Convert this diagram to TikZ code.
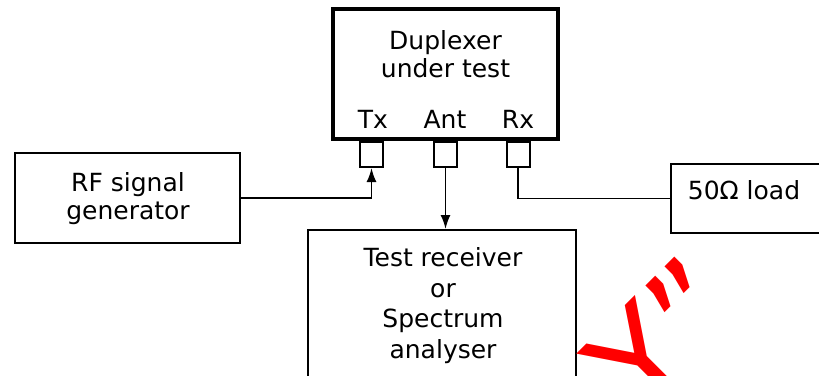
\documentclass[tikz,border=0pt]{standalone}
\usepackage{fontspec}
\setmainfont{DejaVu Sans}
\usetikzlibrary{arrows.meta}
\tikzset{
  box/.style={draw, line width=2pt, rectangle, inner sep=0pt, align=center},
  port/.style={draw, line width=2pt, rectangle, inner sep=0pt, minimum width=23pt, minimum height=25pt},
  lbl/.style={font=\fontsize{25}{28}\selectfont, inner sep=0pt, align=center},
  wire/.style={line width=1.8pt},
  arr/.style={wire, -{Latex[length=14pt,width=10pt]}},
}
\begin{document}
\begin{tikzpicture}[x=1pt,y=-1pt]
\useasboundingbox (0,0) rectangle (819,375);
\clip (0,0) rectangle (819,375);
% duplexer
\node[box, line width=4pt, minimum width=225pt, minimum height=130pt] (dup) at (445.5,74) {};
\node[lbl, anchor=base] (dupt) at (445.5,77) {Duplexer\\under test};
\node[lbl, anchor=base] (txl) at (373,128) {Tx};
\node[lbl, anchor=base] (antl) at (445,128) {Ant};
\node[lbl, anchor=base] (rxl) at (518,128) {Rx};
\node[port, anchor=north] (tx) at (371.5,141) {};
\node[port, anchor=north] (ant) at (445.5,141) {};
\node[port, anchor=north] (rx) at (518,141) {};
% RF generator
\node[box, minimum width=225pt, minimum height=90pt] (rf) at (127.5,198) {};
\node[lbl, anchor=base] (rft) at (128,219) {RF signal\\generator};
% load
\node[box, minimum width=160pt, minimum height=69pt, anchor=west] (load) at (670,198.5) {};
\node[lbl, anchor=base] (loadt) at (744,199) {50Ω load};
% receiver
\node[box, minimum width=268pt, minimum height=170pt, anchor=north] (rec) at (442,229) {};
\node[lbl, anchor=base, font=\fontsize{25}{30.5}\selectfont] (rect) at (443,358) {Test receiver\\or\\Spectrum\\analyser};
% connectors
\draw[arr] (rf.east) -| (tx.south);
\draw[arr] (ant.south) -- (ant.south |- rec.north);
\draw[wire] (rx.south) |- (load.west);
% red mark
\node[rotate=45, text=red, font=\fontsize{135}{135}\selectfont, inner sep=0pt] (mark) at (665,336) {Y"};
\end{tikzpicture}
\end{document}
